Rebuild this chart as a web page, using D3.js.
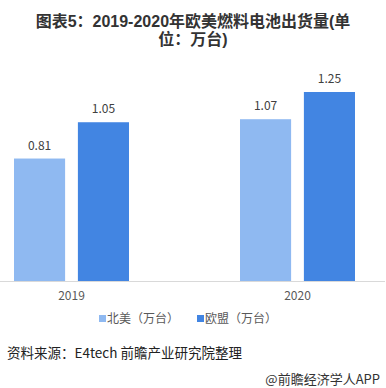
<!DOCTYPE html>
<html><head><meta charset="utf-8">
<script src="https://cdn.jsdelivr.net/npm/d3@7"></script>
<style>body{margin:0;background:#fff}svg{display:block}</style>
</head><body>
<script>
const years = ["2019","2020"];
const seriesNames = ["北美（万台）","欧盟（万台）"];
const northAmerica = [0.81, 1.07];
const eu = [1.05, 1.25];
const colors = ["#8FB9F1","#4285E2"];
const titleLines = ["图表5：2019-2020年欧美燃料电池出货量(单","位：万台)"];
const sourceText = "资料来源：E4tech 前瞻产业研究院整理";
const brandText = "@前瞻经济学人APP";

const W=386,H=388;
const font = "'Microsoft YaHei','Noto Sans CJK SC',sans-serif";
const titleFont = "'Liberation Sans','Noto Sans CJK SC',sans-serif";
const svg = d3.select("body").append("svg").attr("width",W).attr("height",H);

svg.selectAll("text.title").data(titleLines).join("text").attr("class","title")
  .attr("x",193).attr("y",(d,i)=>26.5+i*18).attr("text-anchor","middle")
  .attr("font-family",titleFont).attr("font-weight","bold").attr("font-size",16)
  .attr("fill","#333").text(d=>d);

const y = d3.scaleLinear().domain([0,1.4]).range([281,281-151.2*1.4]);
const x0 = d3.scaleBand().domain(years).range([-41.5,410.5]);
const x1 = d3.scaleBand().domain([0,1]).range([-57.5,57.5]).paddingInner(0.2);

const data = years.map((yr,i)=>({year:yr, vals:[northAmerica[i], eu[i]]}));
const g = svg.append("g");
data.forEach(d=>{
  d.vals.forEach((v,j)=>{
    const cx = x0(d.year)+x0.bandwidth()/2 + x1(j);
    g.append("rect").attr("x",cx).attr("y",y(v)).attr("width",x1.bandwidth())
      .attr("height",y(0)-y(v)).attr("fill",colors[j]);
    g.append("text").attr("x",cx+x1.bandwidth()/2).attr("y",y(v)-9)
      .attr("text-anchor","middle").attr("font-family",font).attr("font-size",12)
      .attr("fill","#404040").text(v.toFixed(2));
  });
});

const xAxis = svg.append("g").attr("transform","translate(0,281)")
  .call(d3.axisBottom(x0).tickSize(0).tickPadding(10));
xAxis.select(".domain").attr("d","M0,0.5H385").attr("stroke","#d9d9d9");
xAxis.selectAll("text").attr("font-family",font).attr("font-size",12).attr("fill","#595959");

// legend
const legX=[99,197];
seriesNames.forEach((n,j)=>{
  svg.append("rect").attr("x",legX[j]).attr("y",315).attr("width",7).attr("height",7).attr("fill",colors[j]);
  svg.append("text").attr("x",legX[j]+8).attr("y",323).attr("font-family",font)
    .attr("font-size",12).attr("fill","#595959").text(n);
});

svg.append("text").attr("x",7).attr("y",358).attr("font-family",font).attr("font-size",13.5)
  .attr("fill","#222").text(sourceText);
svg.append("text").attr("x",380).attr("y",384).attr("text-anchor","end").attr("font-family",font)
  .attr("font-size",13).attr("fill","#333").text(brandText);
</script>
</body></html>
